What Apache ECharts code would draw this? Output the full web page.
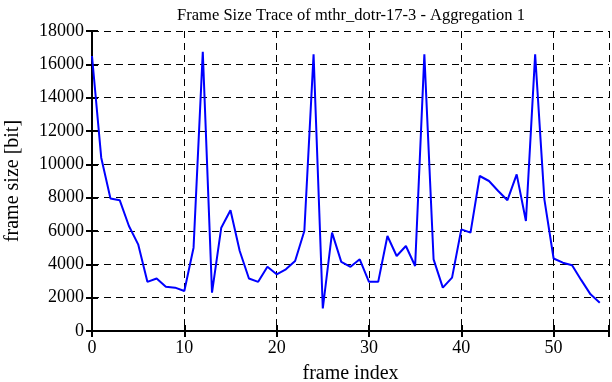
<!DOCTYPE html>
<html>
<head>
<meta charset="utf-8">
<script src="https://cdn.jsdelivr.net/npm/echarts@6/dist/echarts.min.js"></script>
<style>
  html, body { margin: 0; padding: 0; background: #fff; }
  #chart { width: 612px; height: 382px; }
</style>
</head>
<body>
<div id="chart"></div>
<script>
// frame sizes, one per frame index 0..55
const frameSizes = [
  16500, 10400, 7950, 7850, 6300, 5200, 2950, 3150, 2650, 2600,
  2400, 5000, 16750, 2300, 6200, 7250, 4800, 3150, 2950, 3850,
  3400, 3700, 4200, 6000, 16600, 1350, 5900, 4150, 3850, 4300,
  2950, 2950, 5700, 4500, 5100, 3900, 16600, 4300, 2600, 3200,
  6100, 5900, 9300, 9000, 8400, 7850, 9400, 6600, 16600, 7900,
  4350, 4100, 3950, 3050, 2200, 1700
];
const xTicks = [0, 10, 20, 30, 40, 50];
const yTicks = [0, 2000, 4000, 6000, 8000, 10000, 12000, 14000, 16000, 18000];

const points = frameSizes.map((v, i) => [i, v]);

const chart = echarts.init(document.getElementById("chart"));

const font = "Liberation Serif";
const black = "#000";

const gridLine = {
  show: true,
  lineStyle: { color: black, type: [7, 5], width: 1 },
};

const option = {
  animation: false,
  title: {
    text: "Frame Size Trace of mthr_dotr-17-3 - Aggregation 1",
    left: 346,
    textAlign: "center",
    top: 2,
    textStyle: { fontFamily: font, fontSize: 16.5, fontWeight: "normal", color: black },
  },
  grid: { left: 92, right: 3, top: 31, bottom: 51, outerBoundsMode: "none", containLabel: false },
  xAxis: [
    {
      type: "value",
      min: 0,
      max: 56,
      interval: 10,
      name: "frame index",
      nameLocation: "middle",
      nameGap: 33,
      nameTextStyle: { fontFamily: font, fontSize: 20, color: black },
      axisLine: { show: true, lineStyle: { color: black, width: 2 } },
      axisTick: { show: true, inside: true, length: 6, lineStyle: { color: black, width: 2 } },
      axisLabel: {
        fontFamily: font,
        fontSize: 18,
        color: black,
        margin: 8,
        formatter: (v) => (xTicks.includes(v) ? String(v) : ""),
      },
      splitLine: gridLine,
    },
    {
      type: "value",
      position: "top",
      min: 0,
      max: 56,
      interval: 10,
      axisLine: { show: true, lineStyle: { color: black, width: 2 } },
      axisTick: { show: true, inside: true, length: 6, lineStyle: { color: black, width: 2 } },
      axisLabel: { show: false },
      splitLine: { show: false },
    },
  ],
  yAxis: [
    {
      type: "value",
      min: 0,
      max: 18000,
      interval: 2000,
      name: "frame size [bit]",
      nameLocation: "middle",
      nameGap: 69,
      nameTextStyle: { fontFamily: font, fontSize: 20, color: black },
      axisLine: { show: true, lineStyle: { color: black, width: 2 } },
      axisTick: { show: true, inside: true, length: 6, lineStyle: { color: black, width: 2 } },
      axisLabel: {
        fontFamily: font,
        fontSize: 18,
        color: black,
        margin: 8,
        formatter: (v) => (yTicks.includes(v) ? String(v) : ""),
      },
      splitLine: gridLine,
    },
    {
      type: "value",
      position: "right",
      min: 0,
      max: 18000,
      interval: 2000,
      axisLine: { show: true, lineStyle: { color: black, width: 2 } },
      axisTick: { show: true, inside: true, length: 6, lineStyle: { color: black, width: 2 } },
      axisLabel: { show: false },
      splitLine: { show: false },
    },
  ],
  series: [
    {
      type: "line",
      data: points,
      xAxisIndex: 0,
      yAxisIndex: 0,
      showSymbol: false,
      lineStyle: { color: "#0000ff", width: 2 },
      z: 5,
    },
  ],
};

chart.setOption(option);
</script>
</body>
</html>
